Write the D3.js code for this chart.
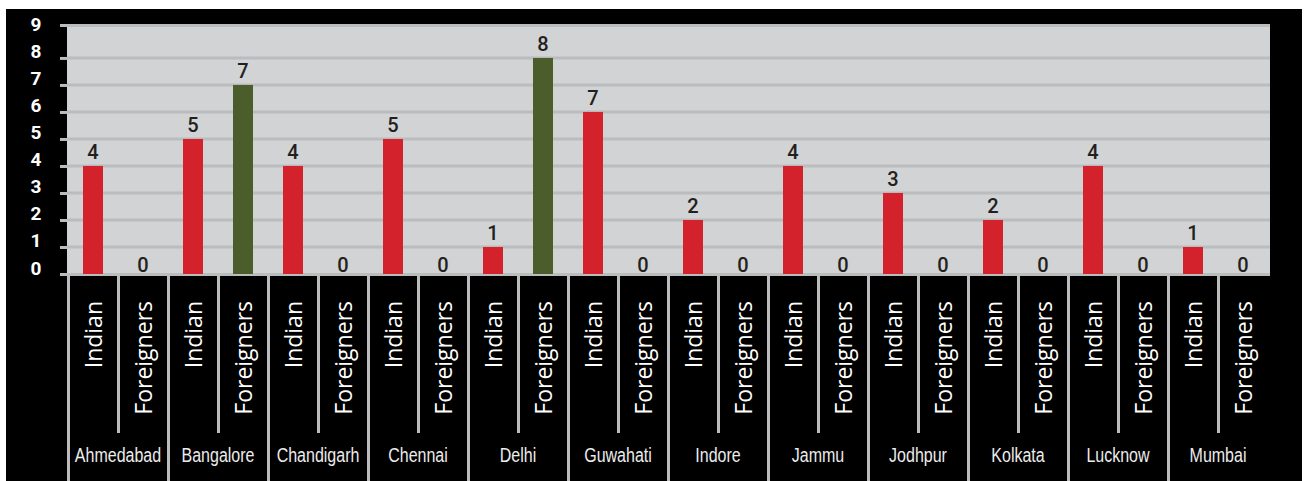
<!DOCTYPE html>
<html><head><meta charset="utf-8">
<script src="https://cdn.jsdelivr.net/npm/d3@7"></script>
<style>html,body{margin:0;padding:0;background:#fff;}svg{display:block;}</style>
</head><body>
<svg id="c" width="1305" height="481"></svg>
<script>
const cities = ["Ahmedabad","Bangalore","Chandigarh","Chennai","Delhi","Guwahati","Indore","Jammu","Jodhpur","Kolkata","Lucknow","Mumbai"];
const subGroups = ["Indian","Foreigners"];
const indianValues    = [4,5,4,5,1,6,2,4,3,2,4,1];
const indianLabels    = [4,5,4,5,1,7,2,4,3,2,4,1];
const foreignerValues = [0,7,0,0,8,0,0,0,0,0,0,0];
const foreignerLabels = [0,7,0,0,8,0,0,0,0,0,0,0];
const yTicks = [0,1,2,3,4,5,6,7,8,9];

const svg = d3.select("#c");
const L = 68, R = 1268, B = 274, T = 25;
const y = d3.scaleLinear().domain([0, 9.22]).range([B, T]);
const x0 = d3.scaleBand().domain(cities).range([L, R]);
const x1 = d3.scaleBand().domain(subGroups).range([0, x0.bandwidth()]);
const color = {Indian:"#d3222b", Foreigners:"#4a5d2b"};

const data = [];
cities.forEach((c,i)=>{
  data.push({city:c, g:"Indian", v:indianValues[i], lab:indianLabels[i]});
  data.push({city:c, g:"Foreigners", v:foreignerValues[i], lab:foreignerLabels[i]});
});

// background
svg.append("rect").attr("x",6).attr("y",9).attr("width",1296).attr("height",472).attr("fill","#000");
// plot area
svg.append("rect").attr("x",L-1).attr("y",T-1).attr("width",R-L+3).attr("height",B-T+2).attr("fill","#d1d3d4");
// gridlines
svg.append("g").selectAll("line").data(yTicks.filter(t=>t>0 && t<9)).join("line")
  .attr("x1",L-1).attr("x2",R+2).attr("y1",d=>y(d)).attr("y2",d=>y(d))
  .attr("stroke","#bbbcbe").attr("stroke-width",3);
svg.append("line").attr("x1",L-1).attr("x2",R+2).attr("y1",T+0.5).attr("y2",T+0.5).attr("stroke","#bbbcbe").attr("stroke-width",3);

// y-axis
const yAxis = d3.axisLeft(y).tickValues(yTicks.filter(t=>t<9)).tickSize(7).tickFormat("");
const ga = svg.append("g").attr("transform",`translate(${L-1},0)`).call(yAxis);
ga.select(".domain").remove();
ga.selectAll(".tick line").attr("stroke","#bbbcbe").attr("stroke-width",3);
svg.append("line").attr("x1",L-8).attr("x2",L).attr("y1",T+0.5).attr("y2",T+0.5).attr("stroke","#bbbcbe").attr("stroke-width",3);
svg.append("g").selectAll("text").data(yTicks).join("text")
  .attr("x",36).attr("y",d=> d===9 ? T-1 : y(d)-6)
  .attr("text-anchor","middle").attr("dominant-baseline","central")
  .attr("fill","#fff").attr("font-family","Roboto, sans-serif").attr("font-weight",700).attr("font-size",19)
  .text(d=>d);

// baseline
svg.append("line").attr("x1",L-8).attr("x2",R+2).attr("y1",B+0.5).attr("y2",B+0.5).attr("stroke","#bbbcbe").attr("stroke-width",3);

// bars
const bw = 20;
const cx = d => x0(d.city) + x1(d.g) + x1.bandwidth()/2;
svg.append("g").selectAll("rect").data(data.filter(d=>d.v>0)).join("rect")
  .attr("x",d=>cx(d)-bw/2).attr("width",bw)
  .attr("y",d=>y(d.v)).attr("height",d=>B-y(d.v))
  .attr("fill",d=>color[d.g]);

// value labels
svg.append("g").selectAll("text").data(data).join("text")
  .attr("x",d=>cx(d)).attr("y",d=> d.v>0 ? y(d.v)-7 : B-2)
  .attr("text-anchor","middle")
  .attr("fill","#231f20").attr("font-family","Roboto, sans-serif").attr("font-weight",500).attr("font-size",20)
  .text(d=>d.lab);

// separators below plot
const seps = [];
cities.forEach(c=>{
  seps.push({x:x0(c), full:true});
  seps.push({x:x0(c)+x1("Foreigners"), full:false});
});
svg.append("g").selectAll("line").data(seps).join("line")
  .attr("x1",d=>d.x+0.5).attr("x2",d=>d.x+0.5).attr("y1",B+1).attr("y2",d=>d.full?481:433)
  .attr("stroke","#bbbcbe").attr("stroke-width",3);

// rotated sub labels
svg.append("g").selectAll("text").data(data).join("text")
  .attr("transform",d=>`translate(${cx(d)+9},301) rotate(-90)`)
  .attr("text-anchor","end")
  .attr("fill","#fff").attr("font-family","'Open Sans', sans-serif").attr("font-size",23)
  .text(d=>d.g);

// city labels (condensed)
svg.append("g").selectAll("text").data(cities).join("text")
  .attr("transform",d=>`translate(${x0(d)+x0.bandwidth()/2},462) scale(0.8,1)`)
  .attr("text-anchor","middle")
  .attr("fill","#ececec").attr("font-family","'Liberation Sans', Arial, sans-serif").attr("font-size",20)
  .text(d=>d);
</script>
</body></html>
